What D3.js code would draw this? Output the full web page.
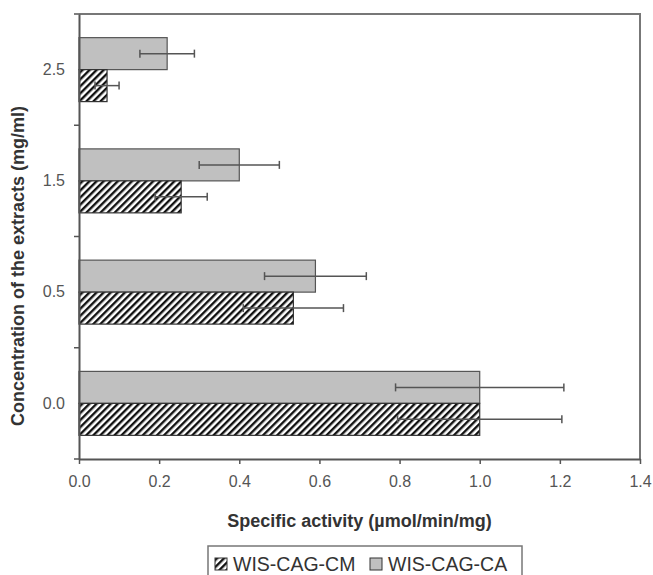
<!DOCTYPE html>
<html><head><meta charset="utf-8">
<script src="https://cdn.jsdelivr.net/npm/d3@7/dist/d3.min.js"></script>
<style>body{margin:0;background:#fff}svg{display:block;font-family:"Liberation Sans",Arial,sans-serif}</style>
</head><body>
<svg id="c" width="653" height="575"></svg>
<script>
const categories = ["2.5", "1.5", "0.5", "0.0"];
const seriesNames = ["WIS-CAG-CA", "WIS-CAG-CM"];
const caValues = [0.22, 0.40, 0.59, 1.00];
const caErrors = [0.068, 0.10, 0.127, 0.21];
const cmValues = [0.07, 0.255, 0.535, 1.00];
const cmErrors = [0.03, 0.065, 0.125, 0.205];
const xTicks = [0, 0.2, 0.4, 0.6, 0.8, 1.0, 1.2, 1.4];

const svg = d3.select("#c");
const L = 79, R = 640, T = 14, B = 459;

const defs = svg.append("defs");
const pat = defs.append("pattern").attr("id", "hatch").attr("patternUnits", "userSpaceOnUse")
  .attr("width", 5).attr("height", 5).attr("patternTransform", "rotate(45)");
pat.append("rect").attr("width", 5).attr("height", 5).attr("fill", "#fff");
pat.append("line").attr("x1", 1.2).attr("y1", 0).attr("x2", 1.2).attr("y2", 5)
  .attr("stroke", "#111").attr("stroke-width", 2.4);

const x = d3.scaleLinear().domain([0, 1.4]).range([L, R]);
const y = d3.scaleBand().domain(categories).range([T, B]).paddingInner(0.425).paddingOuter(0.2125);
const ySub = d3.scaleBand().domain(seriesNames).range([0, y.bandwidth()]);

// plot frame (top and right)
svg.append("path").attr("d", `M${L},${T}H${R}V${B}`).attr("fill", "none").attr("stroke", "#777").attr("stroke-width", 2);

const rows = categories.map((c, i) => ({c, vals: [
  {s: "WIS-CAG-CA", v: caValues[i], e: caErrors[i]},
  {s: "WIS-CAG-CM", v: cmValues[i], e: cmErrors[i]}
]}));

const g = svg.append("g");
const grp = g.selectAll("g.row").data(rows).join("g").attr("transform", d => `translate(0,${y(d.c)})`);
grp.selectAll("rect").data(d => d.vals).join("rect")
  .attr("x", x(0)).attr("y", d => ySub(d.s))
  .attr("width", d => x(d.v) - x(0)).attr("height", ySub.bandwidth())
  .attr("fill", d => d.s === "WIS-CAG-CA" ? "#c0c0c0" : "url(#hatch)")
  .attr("stroke", d => d.s === "WIS-CAG-CA" ? "#555" : "#333").attr("stroke-width", 1.2);

// error bars
const eb = grp.selectAll("g.eb").data(d => d.vals).join("g").attr("class", "eb")
  .attr("transform", d => `translate(0,${ySub(d.s) + ySub.bandwidth() / 2})`);
eb.append("line").attr("x1", d => x(d.v - d.e)).attr("x2", d => x(d.v + d.e)).attr("y1", 0).attr("y2", 0)
  .attr("stroke", "#555").attr("stroke-width", 1.5);
eb.append("line").attr("x1", d => x(d.v - d.e)).attr("x2", d => x(d.v - d.e)).attr("y1", -4).attr("y2", 4)
  .attr("stroke", "#555").attr("stroke-width", 1.5);
eb.append("line").attr("x1", d => x(d.v + d.e)).attr("x2", d => x(d.v + d.e)).attr("y1", -4).attr("y2", 4)
  .attr("stroke", "#555").attr("stroke-width", 1.5);

// x axis
const xa = svg.append("g").attr("transform", `translate(0,${B})`)
  .call(d3.axisBottom(x).tickValues(xTicks).tickFormat(d3.format(".1f")).tickSizeInner(5).tickSizeOuter(0).tickPadding(12));
xa.select(".domain").attr("stroke", "#555").attr("stroke-width", 2);
xa.selectAll(".tick line").attr("stroke", "#555").attr("stroke-width", 1.5);
xa.selectAll(".tick text").attr("font-size", 16).attr("fill", "#555").attr("font-family", "Liberation Sans, Arial, sans-serif");

// y axis
const ya = svg.append("g").attr("transform", `translate(${L},0)`)
  .call(d3.axisLeft(y).tickSize(0).tickPadding(14));
ya.select(".domain").attr("stroke", "#555").attr("stroke-width", 2);
ya.selectAll(".tick text").attr("font-size", 16).attr("fill", "#555").attr("font-family", "Liberation Sans, Arial, sans-serif");
const bounds = categories.map(c => y(c) - y.step() * y.paddingInner() / 2).concat([B]);
ya.selectAll("line.bt").data(bounds).join("line").attr("class", "bt")
  .attr("x1", -5).attr("x2", 0).attr("y1", d => d).attr("y2", d => d)
  .attr("stroke", "#555").attr("stroke-width", 1.5);

// titles
svg.append("text").attr("x", (L + R) / 2).attr("y", 527).attr("text-anchor", "middle")
  .attr("font-size", 18).attr("font-weight", "bold").attr("fill", "#333")
  .text("Specific activity (µmol/min/mg)");
svg.append("text").attr("transform", `translate(24,266) rotate(-90)`).attr("text-anchor", "middle")
  .attr("font-size", 18).attr("font-weight", "bold").attr("fill", "#333")
  .text("Concentration of the extracts (mg/ml)");

// legend
const lg = svg.append("g");
lg.append("rect").attr("x", 208).attr("y", 546).attr("width", 314).attr("height", 40)
  .attr("fill", "#fff").attr("stroke", "#777").attr("stroke-width", 1.5);
const legendItems = [
  {s: "WIS-CAG-CM", fill: "url(#hatch)", x: 215},
  {s: "WIS-CAG-CA", fill: "#c0c0c0", x: 370}
];
const li = lg.selectAll("g").data(legendItems).join("g").attr("transform", d => `translate(${d.x},0)`);
li.append("rect").attr("x", 0).attr("y", 558).attr("width", 12).attr("height", 12)
  .attr("fill", d => d.fill).attr("stroke", "#333").attr("stroke-width", 1);
li.append("text").attr("x", 18).attr("y", 571).attr("font-size", 19.5).attr("fill", "#333")
  .text(d => d.s);
</script>
</body></html>
